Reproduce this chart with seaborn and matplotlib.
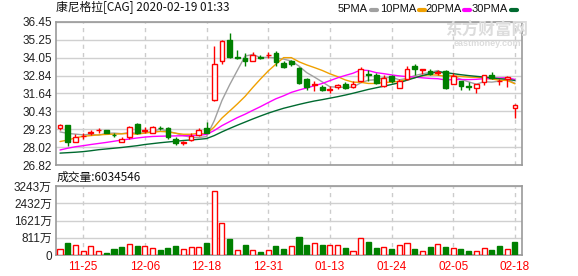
import matplotlib
matplotlib.use("Agg")
import matplotlib.pyplot as plt
import seaborn as sns
import pandas as pd
from matplotlib.lines import Line2D

sns.set_theme(style="white")
plt.rcParams["font.family"] = ["Liberation Sans", "Noto Sans CJK SC", "DejaVu Sans"]

# ---------------- data ----------------
opens = [29.33, 29.5, 28.4, 28.75, 29.0, 29.15, 29.15, 28.87, 28.4, 28.7,
         29.55, 29.1, 29.0, 29.32, 29.3, 28.6, 28.3, 28.5, 28.85, 29.3,
         31.2, 33.8, 35.25, 34.1, 34.0, 33.85, 34.1, 34.2, 34.35, 33.7,
         33.8, 33.35, 32.6, 32.2, 32.1, 31.9, 32.05, 32.3, 32.05, 32.45,
         32.95, 32.9, 32.15, 32.8, 32.0, 32.6, 33.5, 33.2, 33.15, 33.0,
         33.15, 32.3, 32.45, 32.12, 32.0, 32.4, 32.9, 32.45, 32.6, 30.65]
highs = [29.58, 29.5, 28.9, 29.0, 29.2, 29.3, 29.2, 29.0, 28.7, 29.45,
         29.65, 29.4, 29.45, 29.45, 29.4, 28.7, 28.45, 28.95, 29.3, 29.7,
         34.85, 35.25, 35.7, 34.55, 34.35, 34.4, 34.25, 34.45, 34.5, 33.8,
         33.9, 33.4, 32.65, 32.45, 32.2, 32.15, 32.25, 32.4, 32.45, 33.45,
         33.25, 33.0, 32.9, 32.9, 32.6, 33.5, 33.6, 33.3, 33.3, 33.25,
         33.2, 33.0, 32.5, 32.4, 32.3, 32.9, 33.1, 32.6, 32.8, 30.9]
lows = [29.18, 28.1, 28.35, 28.6, 28.85, 29.0, 28.95, 28.7, 28.35, 28.6,
        28.9, 28.95, 28.95, 29.2, 28.6, 28.15, 28.2, 28.45, 28.8, 28.95,
        31.15, 33.65, 34.05, 33.95, 33.5, 33.8, 33.95, 34.05, 33.5, 33.35,
        33.5, 32.25, 31.85, 31.82, 31.8, 31.7, 31.95, 31.95, 32.0, 32.4,
        32.5, 32.3, 32.1, 32.35, 31.98, 32.55, 32.9, 32.95, 32.9, 32.9,
        31.95, 32.25, 31.9, 31.9, 31.7, 32.2, 32.6, 32.2, 32.1, 30.0]
closes = [29.5, 28.4, 28.7, 28.8, 29.05, 29.2, 29.0, 28.82, 28.6, 29.4,
          28.95, 29.15, 29.35, 29.28, 28.7, 28.3, 28.35, 28.8, 29.2, 29.0,
          33.65, 35.15, 34.1, 34.05, 33.8, 34.25, 34.05, 34.25, 33.75, 33.45,
          33.6, 32.35, 32.05, 32.25, 31.85, 31.95, 32.2, 32.0, 32.3, 33.3,
          32.85, 32.35, 32.7, 32.45, 32.45, 33.3, 33.3, 33.3, 32.95, 33.05,
          32.0, 32.8, 32.15, 32.08, 32.25, 32.85, 32.65, 32.5, 32.75, 30.85]

ma5 = [29.05, 28.95, 28.9, 28.85, 28.89, 28.83, 28.95, 28.97, 28.93, 29.0,
       28.95, 28.98, 29.09, 29.23, 29.09, 28.96, 28.8, 28.69, 28.67, 28.73,
       29.8, 31.16, 32.22, 33.19, 34.15, 34.27, 34.05, 34.08, 34.02, 33.95,
       33.82, 33.48, 33.04, 32.74, 32.42, 32.09, 32.06, 32.05, 32.06, 32.35,
       32.53, 32.56, 32.7, 32.73, 32.56, 32.65, 32.84, 32.96, 33.06, 33.18,
       32.92, 32.82, 32.59, 32.42, 32.26, 32.43, 32.4, 32.47, 32.6, 32.32]
ma10 = [28.4, 28.5, 28.65, 28.75, 28.8, 28.85, 28.88, 28.9, 28.92, 28.95,
        28.89, 28.97, 29.03, 29.08, 29.05, 28.96, 28.89, 28.89, 28.95, 28.91,
        29.38, 29.98, 30.45, 30.93, 31.44, 32.04, 32.61, 33.15, 33.61, 34.05,
        34.05, 33.77, 33.56, 33.38, 33.19, 32.96, 32.77, 32.55, 32.4, 32.39,
        32.31, 32.31, 32.38, 32.4, 32.46, 32.59, 32.7, 32.83, 32.9, 32.87,
        32.79, 32.83, 32.78, 32.74, 32.72, 32.67, 32.61, 32.53, 32.51, 32.29]
ma20 = [27.83, 27.95, 28.05, 28.12, 28.2, 28.27, 28.34, 28.42, 28.5, 28.57,
        28.64, 28.7, 28.74, 28.76, 28.77, 28.78, 28.79, 28.8, 28.82, 28.88,
        29.14, 29.47, 29.74, 30.01, 30.24, 30.5, 30.75, 31.02, 31.28, 31.48,
        31.71, 31.87, 32.01, 32.16, 32.31, 32.5, 32.69, 32.85, 33.0, 33.22,
        33.18, 33.04, 32.97, 32.89, 32.82, 32.77, 32.74, 32.69, 32.65, 32.63,
        32.55, 32.57, 32.58, 32.57, 32.59, 32.63, 32.65, 32.68, 32.7, 32.58]
ma30 = [27.62, 27.65, 27.68, 27.72, 27.78, 27.85, 27.9, 27.95, 28.0, 28.06,
        28.12, 28.2, 28.26, 28.32, 28.37, 28.42, 28.47, 28.51, 28.55, 28.6,
        28.8, 29.05, 29.28, 29.5, 29.71, 29.92, 30.12, 30.31, 30.48, 30.64,
        30.77, 30.9, 31.02, 31.13, 31.22, 31.32, 31.42, 31.53, 31.65, 31.78,
        31.91, 32.02, 32.13, 32.24, 32.36, 32.53, 32.69, 32.84, 32.97, 33.1,
        33.05, 32.97, 32.9, 32.84, 32.79, 32.74, 32.69, 32.63, 32.6, 32.51]

volume = [266, 564, 454, 172, 407, 172, 94, 282, 376, 501,
          423, 407, 313, 235, 329, 423, 266, 360, 360, 564,
          2993, 1489, 752, 219, 470, 219, 141, 219, 423, 282,
          407, 846, 470, 548, 470, 454, 454, 329, 204, 784,
          611, 329, 360, 282, 454, 548, 282, 204, 376, 501,
          376, 313, 282, 188, 172, 313, 235, 423, 266, 603]
vol_up = [1, 0, 1, 1, 1, 1, 0, 0, 0, 1,
          0, 1, 1, 0, 0, 0, 1, 1, 1, 0,
          1, 1, 0, 1, 0, 1, 0, 1, 0, 0,
          1, 0, 0, 1, 0, 1, 1, 0, 1, 1,
          0, 0, 1, 0, 1, 1, 0, 1, 0, 1,
          0, 1, 0, 0, 1, 1, 0, 0, 1, 0]

date_ticks = [3, 11, 19, 27, 35, 43, 51, 59]
date_labels = ["11-25", "12-06", "12-18", "12-31", "01-13", "01-24", "02-05", "02-18"]
price_ticks = [26.82, 28.02, 29.23, 30.43, 31.64, 32.84, 34.05, 35.25, 36.45]
price_labels = ["26.82", "28.02", "29.23", "30.43", "31.64", "32.84", "34.05", "35.25", "36.45"]
vol_ticks = [0, 811, 1621, 2432, 3243]
vol_labels = ["0", "811万", "1621万", "2432万", "3243万"]
ma_names = ["5PMA", "10PMA", "20PMA", "30PMA"]
ma_colors = ["#a0a0a0", "#f0a000", "#ff00ff", "#006a30"]

title = "康尼格拉[CAG] 2020-02-19 01:33"
vol_title = "成交量:6034546"

RED = "#ff0000"
GREEN = "#008000"

# ---------------- figure ----------------
W, H = 578, 276
fig = plt.figure(figsize=(W / 100, H / 100), dpi=100)
fig.patch.set_facecolor("white")
ax1 = fig.add_axes([56 / W, 1 - 165 / H, 466 / W, 143 / H])
ax2 = fig.add_axes([56 / W, 1 - 255 / H, 466 / W, 69 / H])

n = len(closes)
x = list(range(n))
xlim = (-0.52, 59.92)

# MA lines with seaborn
df_ma = pd.DataFrame({"x": x, "ma5": ma5, "ma10": ma10, "ma20": ma20, "ma30": ma30})
for col, c in zip(["ma5", "ma10", "ma20", "ma30"], ma_colors):
    sns.lineplot(data=df_ma, x="x", y=col, ax=ax1, color=c, linewidth=1.0, zorder=2, legend=False)

# candles
bw = 0.62
for i in range(n):
    o, h, l, c = opens[i], highs[i], lows[i], closes[i]
    up = c >= o
    col = RED if up else GREEN
    lo_b, hi_b = min(o, c), max(o, c)
    ax1.plot([i, i], [l, lo_b], color=col, lw=1, zorder=3, solid_capstyle="butt")
    ax1.plot([i, i], [hi_b, h], color=col, lw=1, zorder=3, solid_capstyle="butt")
    height = max(hi_b - lo_b, 0.001)
    ax1.bar(i, height, bottom=lo_b, width=bw, facecolor="white" if up else GREEN,
            edgecolor=col, linewidth=1, zorder=4)

ax1.set_xlim(*xlim)
ax1.set_ylim(26.82, 36.45)
ax1.set_yticks(price_ticks)
ax1.set_yticklabels(price_labels)
ax1.set_xticks(date_ticks)
ax1.set_xticklabels([])

# volume bars
for i in range(n):
    up = vol_up[i] == 1
    col = RED if up else GREEN
    ax2.bar(i, volume[i], width=0.66, facecolor="white" if up else GREEN,
            edgecolor=col, linewidth=1, zorder=3)
ax2.set_xlim(*xlim)
ax2.set_ylim(0, 3243)
ax2.set_yticks(vol_ticks)
ax2.set_yticklabels(vol_labels, family=["Liberation Sans", "Noto Sans CJK SC"])
ax2.set_xticks(date_ticks)
ax2.set_xticklabels(date_labels, color=RED)

for ax in (ax1, ax2):
    ax.set_xlabel("")
    ax.set_ylabel("")
    ax.set_facecolor("white")
    ax.yaxis.grid(True, color="#d0d0d0", lw=1, ls="-", zorder=0)
    ax.xaxis.grid(True, color="#cccccc", lw=1, ls=(0, (3, 3)), zorder=0)
    ax.set_axisbelow(True)
    for s in ax.spines.values():
        s.set_color("#999999")
        s.set_linewidth(1.2)
        s.set_visible(True)
    ax.tick_params(axis="both", length=0, labelsize=8.5, pad=3, colors="#222222")
ax2.tick_params(axis="x", colors=RED, pad=4)
ax1.tick_params(axis="y", colors="#222222")

# texts
fig.text(56 / W, 1 - 8 / H, title, fontsize=8.5, va="center", ha="left",
         family=["Noto Sans CJK SC", "DejaVu Sans"], color="#111111")
fig.text(57 / W, 1 - 177 / H, vol_title, fontsize=8.5, va="center", ha="left",
         family=["Noto Sans CJK SC", "DejaVu Sans"], color="#111111")

# legend (manual)
leg_x = [338, 380, 425, 472]
for name, c, lx in zip(ma_names, ma_colors, leg_x):
    t = fig.text(lx / W, 1 - 9 / H, name, fontsize=8, va="center", ha="left", color="#111111")
    fig.canvas.draw()
    bb = t.get_window_extent()
    x0 = bb.x1 + 3
    fig.add_artist(Line2D([x0 / W, (x0 + 6) / W], [1 - 9.5 / H, 1 - 9.5 / H],
                          color=c, lw=3, transform=fig.transFigure))

# watermark
fig.text(487 / W, 1 - 31 / H, "东方财富网", fontsize=12, fontweight="bold", ha="center",
         va="center", color="#dcdcdc", family=["Noto Sans CJK SC"])
fig.text(487 / W, 1 - 43 / H, "eastmoney.com", fontsize=6.5, fontweight="bold", ha="center",
         va="center", color="#dcdcdc")

fig.savefig("out.png", dpi=100, facecolor="white")
